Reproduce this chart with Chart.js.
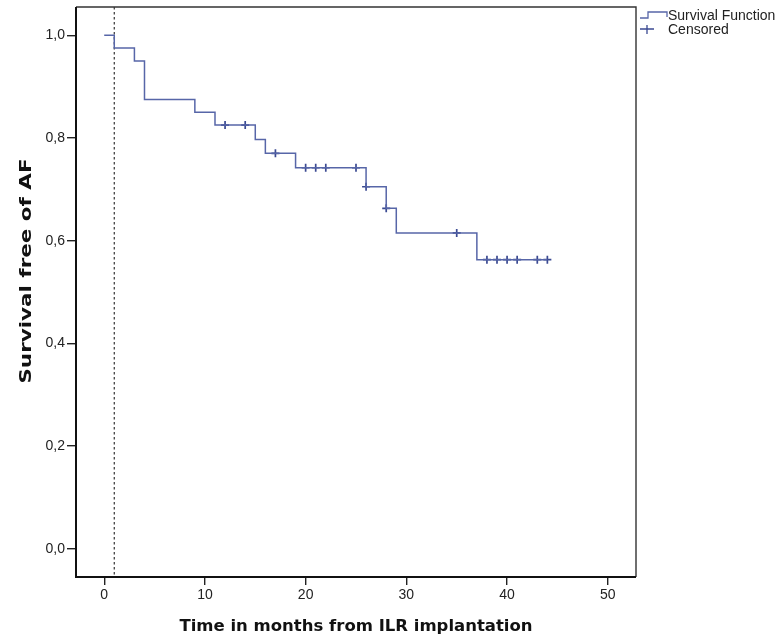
<!DOCTYPE html>
<html>
<head>
<meta charset="utf-8">
<script src="https://cdn.jsdelivr.net/npm/chart.js@4.4.0/dist/chart.umd.min.js"></script>
<style>
  html, body { margin: 0; padding: 0; background: #fff; }
  #wrap { width: 782px; height: 641px; position: relative; }
</style>
</head>
<body>
<div id="wrap"><canvas id="myChart"></canvas></div>
<script>
// Kaplan-Meier step values (month of drop, survival after drop)
const eventMonths = [0, 1, 3, 4, 9, 11, 15, 16, 19, 26, 28, 29, 37, 44];
const survival = [1.0, 0.975, 0.95, 0.875, 0.85, 0.825, 0.797, 0.770, 0.742, 0.705, 0.663, 0.615, 0.563, 0.563];

// censored patients
const censorMonths = [12, 14, 17, 20, 21, 22, 25, 26, 28, 35, 38, 39, 40, 41, 43, 44];
const censorSurvival = [0.825, 0.825, 0.770, 0.742, 0.742, 0.742, 0.742, 0.705, 0.663, 0.615, 0.563, 0.563, 0.563, 0.563, 0.563, 0.563];

const xTicks = [0, 10, 20, 30, 40, 50];
const yTicks = [0, 0.2, 0.4, 0.6, 0.8, 1.0];
const refLineMonth = 1;
const yTitle = 'Survival free of AF';

const lineColor = '#5766a8';
const censorColor = '#3b4a92';

const framePlugin = {
    id: 'frame',
    beforeDatasetsDraw(chart) {
        const ctx = chart.ctx;
        const a = chart.chartArea;
        const x = chart.scales.x.getPixelForValue(refLineMonth);
        ctx.save();
        ctx.strokeStyle = '#333';
        ctx.lineWidth = 1.2;
        ctx.setLineDash([2.5, 2.5]);
        ctx.beginPath();
        ctx.moveTo(x, a.top);
        ctx.lineTo(x, a.bottom);
        ctx.stroke();
        ctx.restore();
    },
    afterDraw(chart) {
        const ctx = chart.ctx;
        const a = chart.chartArea;
        ctx.save();
        // box: top/right lighter, left/bottom heavier
        ctx.strokeStyle = '#333';
        ctx.lineWidth = 1.4;
        ctx.beginPath();
        ctx.moveTo(a.left, a.top);
        ctx.lineTo(a.right, a.top);
        ctx.lineTo(a.right, a.bottom);
        ctx.stroke();
        ctx.strokeStyle = '#111';
        ctx.lineWidth = 2;
        ctx.beginPath();
        ctx.moveTo(a.left, a.top);
        ctx.lineTo(a.left, a.bottom);
        ctx.lineTo(a.right, a.bottom);
        ctx.stroke();

        // y axis title (wide glyphs as in the original export)
        ctx.save();
        ctx.translate(31, (a.top + a.bottom) / 2 - 21);
        ctx.rotate(-Math.PI / 2);
        ctx.scale(1.3, 1);
        ctx.fillStyle = '#111';
        ctx.font = 'bold 16.5px "DejaVu Sans", Verdana, sans-serif';
        ctx.textAlign = 'center';
        ctx.textBaseline = 'alphabetic';
        ctx.fillText(yTitle, 0, 0);
        ctx.restore();

        // legend
        const lx = a.right + 4;
        ctx.lineWidth = 1.3;
        ctx.strokeStyle = lineColor;
        ctx.beginPath();
        ctx.moveTo(lx, 18);
        ctx.lineTo(lx + 8, 18);
        ctx.lineTo(lx + 8, 12);
        ctx.lineTo(lx + 27, 12);
        ctx.lineTo(lx + 27, 17);
        ctx.stroke();
        ctx.strokeStyle = censorColor;
        ctx.beginPath();
        ctx.moveTo(lx, 29);
        ctx.lineTo(lx + 14, 29);
        ctx.moveTo(lx + 7, 25);
        ctx.lineTo(lx + 7, 34);
        ctx.stroke();
        ctx.fillStyle = '#222';
        ctx.font = '14px "Liberation Sans", Arial, sans-serif';
        ctx.textBaseline = 'middle';
        ctx.fillText('Survival Function', lx + 28, 16);
        ctx.fillText('Censored', lx + 28, 30);
        ctx.restore();
    }
};

const canvas = document.getElementById('myChart').getContext('2d');
const myChart = new Chart(canvas, {
    type: 'line',
    data: {
        datasets: [
            {
                label: 'Survival Function',
                data: eventMonths.map((m, i) => ({ x: m, y: survival[i] })),
                borderColor: lineColor,
                borderWidth: 1.5,
                stepped: 'before',
                pointRadius: 0,
                fill: false
            },
            {
                label: 'Censored',
                data: censorMonths.map((m, i) => ({ x: m, y: censorSurvival[i] })),
                showLine: false,
                pointStyle: 'cross',
                pointRadius: 4,
                pointBorderWidth: 1.7,
                pointBorderColor: censorColor,
                borderColor: censorColor
            }
        ]
    },
    options: {
        responsive: true,
        maintainAspectRatio: false,
        animation: false,
        layout: { padding: { left: 0, top: 7, right: 146, bottom: 0 } },
        plugins: { legend: { display: false }, tooltip: { enabled: false } },
        scales: {
            x: {
                type: 'linear',
                min: -2.8,
                max: 52.8,
                afterFit: s => { s.height = 64; s.paddingLeft = 0; s.paddingRight = 0; },
                afterBuildTicks: s => { s.ticks = xTicks.map(v => ({ value: v })); },
                grid: { drawOnChartArea: false, tickLength: 8, color: '#222', lineWidth: 1.4 },
                border: { display: false },
                ticks: {
                    padding: 2,
                    color: '#222',
                    font: { family: '"Liberation Sans", Arial, sans-serif', size: 14 }
                },
                title: {
                    display: true,
                    text: 'Time in months from ILR implantation',
                    color: '#111',
                    padding: { top: 0, bottom: 4 },
                    font: { family: '"DejaVu Sans", Verdana, sans-serif', size: 16.5, weight: 'bold' }
                }
            },
            y: {
                min: -0.055,
                max: 1.055,
                afterFit: s => { s.width = 76; s.paddingTop = 0; s.paddingBottom = 0; },
                afterBuildTicks: s => { s.ticks = yTicks.map(v => ({ value: v })); },
                grid: { drawOnChartArea: false, tickLength: 9, color: '#222', lineWidth: 1.4 },
                border: { display: false },
                ticks: {
                    padding: 2,
                    color: '#222',
                    font: { family: '"Liberation Sans", Arial, sans-serif', size: 14 },
                    callback: v => v.toFixed(1).replace('.', ',')
                },
                title: { display: false }
            }
        }
    },
    plugins: [framePlugin]
});
</script>
</body>
</html>
